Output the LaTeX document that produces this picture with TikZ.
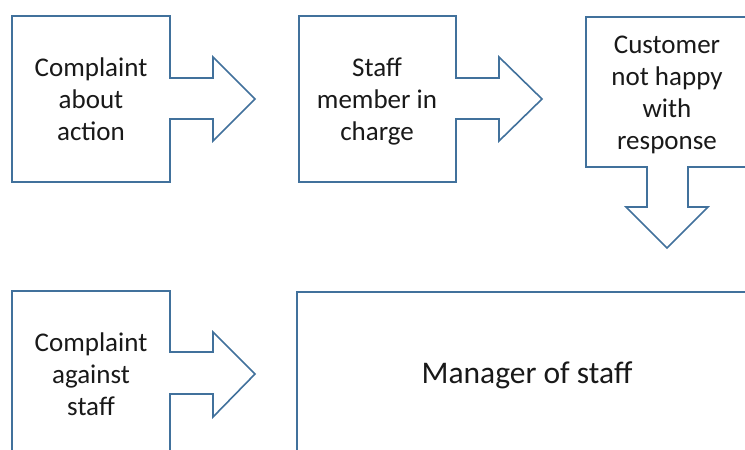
\documentclass[tikz,border=0pt]{standalone}
\usepackage{fontspec}
\setmainfont{Carlito}
\definecolor{boxblue}{RGB}{65,113,156}
\begin{document}
\begin{tikzpicture}[x=1pt,y=-1pt,
  callout/.style={draw=boxblue,line width=1.6pt,fill=white,line join=miter},
  lbl/.style={align=center,font=\fontsize{27}{32}\selectfont,text=black!90,inner sep=0pt}]
\useasboundingbox (0,0) rectangle (745,450);
\clip (0,0) rectangle (745,450);
% box 1
\draw[callout] (12,16) -- (170,16) -- (170,78) -- (213,78) -- (213,57) -- (255,99)
  -- (213,141) -- (213,119) -- (170,119) -- (170,182) -- (12,182) -- cycle;
\node[lbl] (b1) at (91,99) {Complaint\\about\\action};
% box 2
\draw[callout] (299,16) -- (456,16) -- (456,78) -- (499,78) -- (499,57) -- (542,99)
  -- (499,141) -- (499,119) -- (456,119) -- (456,182) -- (299,182) -- cycle;
\node[lbl] (b2) at (377,101) {Staff\\member in\\charge};
% box 3
\draw[callout] (586,17) -- (760,17) -- (760,167) -- (688,167) -- (688,207) -- (708,207)
  -- (667,248) -- (626,207) -- (647,207) -- (647,167) -- (586,167) -- cycle;
\node[lbl] (b3) at (667,95) {Customer\\not happy\\with\\response};
% box 4
\draw[callout] (12,291) -- (170,291) -- (170,352) -- (213,352) -- (213,332) -- (255,374)
  -- (213,417) -- (213,394) -- (170,394) -- (170,470) -- (12,470) -- cycle;
\node[lbl] (b4) at (91,374) {Complaint\\against\\staff};
% box 5
\draw[callout] (297,292) rectangle (757,470);
\node[lbl,font=\fontsize{31.5}{38}\selectfont] (b5) at (527,375) {Manager of staff};
\end{tikzpicture}
\end{document}
